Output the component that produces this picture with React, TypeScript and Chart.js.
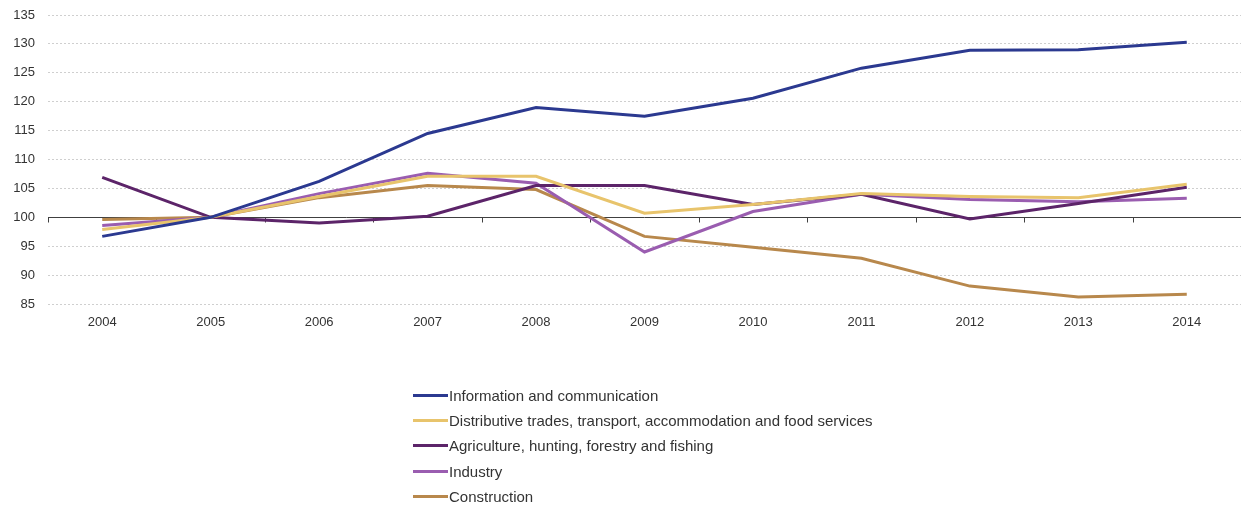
import React, { useEffect, useRef } from "react";
import { Chart, registerables } from "chart.js";

Chart.register(...registerables);

const years = ["2004", "2005", "2006", "2007", "2008", "2009", "2010", "2011", "2012", "2013", "2014"];
const infoComm = [96.7, 100, 106.2, 114.5, 119.0, 117.5, 120.6, 125.8, 128.9, 129.0, 130.3];
const distributive = [97.9, 100, 103.6, 107.1, 107.1, 100.7, 102.2, 104.1, 103.6, 103.4, 105.7];
const agriculture = [106.9, 100, 99.0, 100.2, 105.5, 105.5, 102.2, 104.0, 99.7, 102.4, 105.2];
const industry = [98.6, 100, 104.1, 107.6, 105.9, 94.0, 101.0, 104.0, 103.1, 102.7, 103.3];
const construction = [99.6, 100, 103.4, 105.5, 104.8, 96.7, 94.8, 92.9, 88.1, 86.2, 86.7];
const yTicks = [85, 90, 95, 100, 105, 110, 115, 120, 125, 130, 135];

const seriesNames = [
  "Information and communication",
  "Distributive trades, transport, accommodation and food services",
  "Agriculture, hunting, forestry and fishing",
  "Industry",
  "Construction",
];
const seriesColors = ["#2B3990", "#E8C46C", "#5C2469", "#9A5DB0", "#B8884C"];
const seriesData = [infoComm, distributive, agriculture, industry, construction];

const FONT = "'Liberation Sans', Arial, sans-serif";

const baselinePlugin = {
  id: "baseline100",
  beforeDatasetsDraw(chart: any) {
    const { ctx, chartArea, scales } = chart;
    const y = Math.round(scales.y.getPixelForValue(100)) + 0.5;
    ctx.save();
    ctx.strokeStyle = "#404040";
    ctx.lineWidth = 1;
    ctx.beginPath();
    ctx.moveTo(chartArea.left, y);
    ctx.lineTo(chartArea.right, y);
    const n = years.length;
    const step = scales.x.getPixelForValue(1) - scales.x.getPixelForValue(0);
    for (let i = 0; i < n; i++) {
      const bx = Math.round(scales.x.getPixelForValue(i) - step / 2) + 0.5;
      ctx.moveTo(bx, y);
      ctx.lineTo(bx, y + 5);
    }
    ctx.stroke();
    ctx.restore();
  },
};

export default function App() {
  const ref = useRef<HTMLCanvasElement>(null);
  useEffect(() => {
    if (!ref.current) return;
    const chart = new Chart(ref.current, {
      type: "line",
      data: {
        labels: years,
        datasets: seriesData.map((d, i) => ({
          label: seriesNames[i],
          data: d,
          borderColor: seriesColors[i],
          backgroundColor: seriesColors[i],
          borderWidth: 3,
          pointRadius: 0,
          tension: 0,
          fill: false,
        })),
      },
      options: {
        animation: false,
        responsive: false,
        maintainAspectRatio: false,
        layout: { padding: { top: 15, right: 3, left: 0, bottom: 0 } },
        plugins: { legend: { display: false }, tooltip: { enabled: false } },
        scales: {
          x: {
            offset: true,
            grid: { display: false, drawTicks: false },
            border: { display: false },
            ticks: { color: "#333", font: { family: FONT, size: 13 }, padding: 11, maxRotation: 0 },
            afterFit(scale: any) {
              scale.height = 202;
              scale.paddingLeft = 0;
              scale.paddingRight = 0;
            },
          },
          y: {
            min: 85,
            max: 135,
            afterBuildTicks(scale: any) {
              scale.ticks = yTicks.map((v) => ({ value: v }));
            },
            grid: {
              color: (c: any) => (c.tick && c.tick.value === 100 ? "rgba(0,0,0,0)" : "#cfcfcf"),
              drawTicks: false,
              lineWidth: 1,
            },
            border: { display: false, dash: [2, 2] },
            ticks: { color: "#333", font: { family: FONT, size: 13 }, padding: 13 },
            afterFit(scale: any) {
              scale.width = 48;
              scale.paddingTop = 0;
              scale.paddingBottom = 0;
            },
          },
        },
      },
      plugins: [baselinePlugin],
    } as any);
    return () => chart.destroy();
  }, []);

  return (
    <div style={{ position: "fixed", left: 0, top: 0, width: 1244, height: 506, background: "#fff", fontFamily: FONT }}>
      <canvas ref={ref} width={1244} height={506} style={{ position: "absolute", left: 0, top: 0 }} />
      <div style={{ position: "absolute", left: 413, top: 383 }}>
        {seriesNames.map((n, i) => (
          <div key={n} style={{ display: "flex", alignItems: "center", height: 25.2, fontSize: 15, color: "#333" }}>
            <span style={{ display: "inline-block", width: 35, height: 3, background: seriesColors[i], marginRight: 1 }} />
            <span>{n}</span>
          </div>
        ))}
      </div>
    </div>
  );
}
